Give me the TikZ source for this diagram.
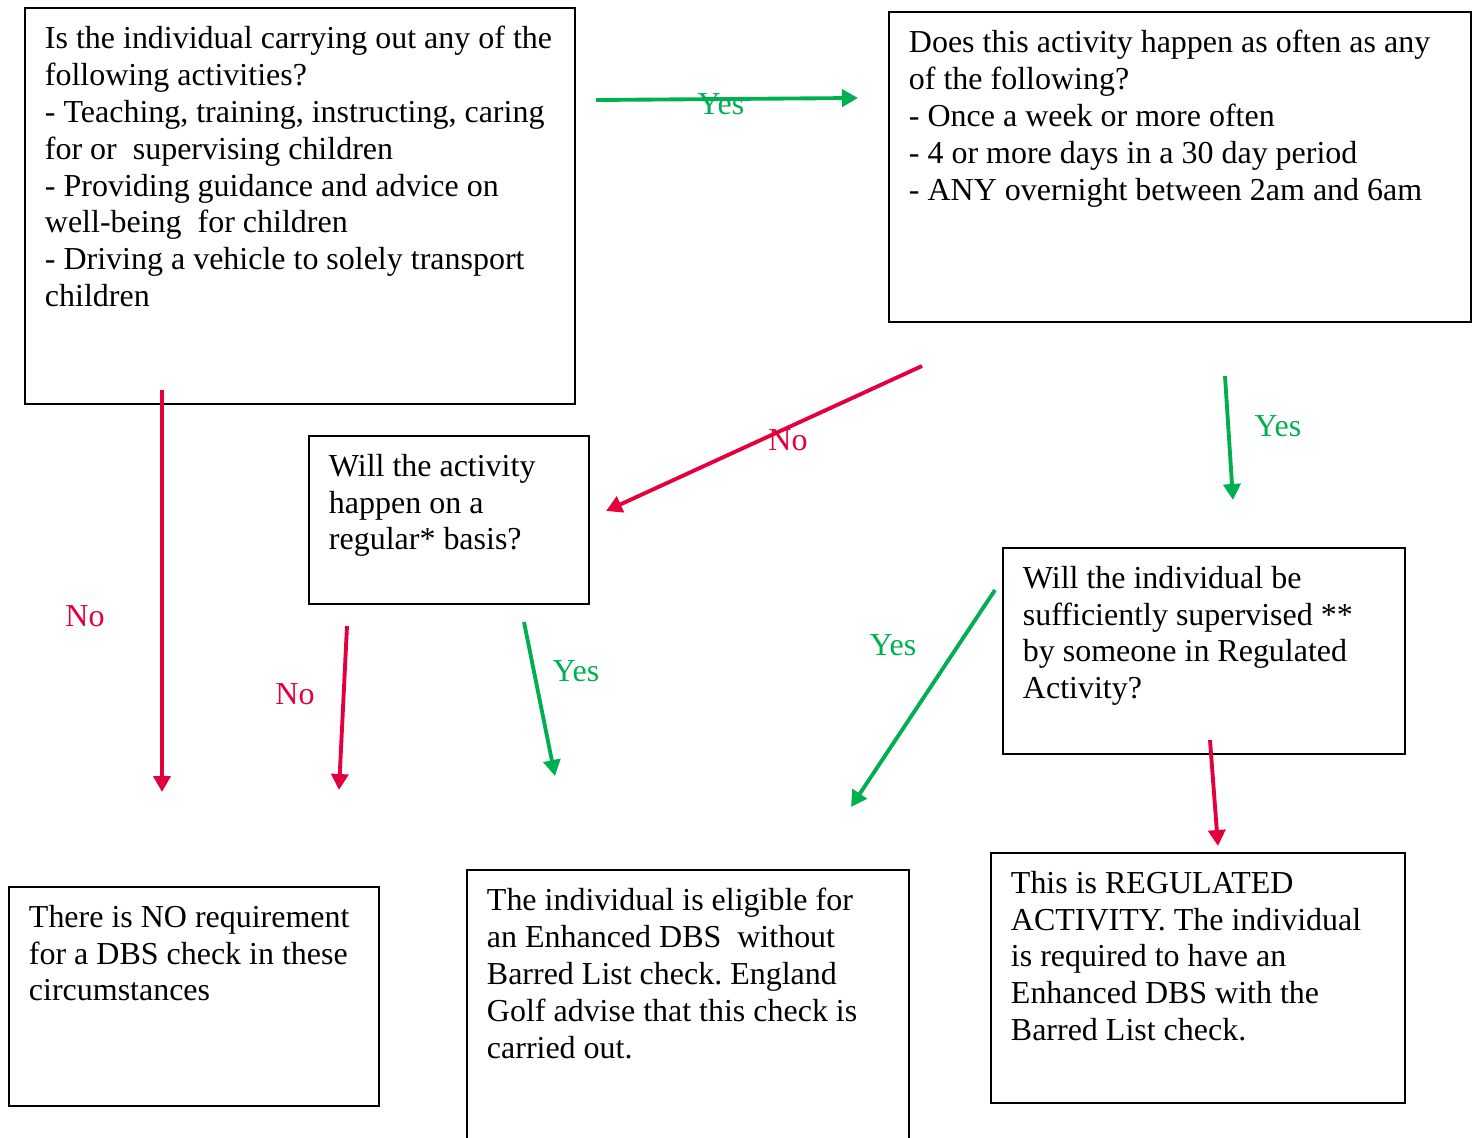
\documentclass[tikz,border=0pt]{standalone}
\usepackage{fontspec}
\setmainfont{Liberation Serif}
\usepackage{tikz}
\usetikzlibrary{arrows.meta}
\definecolor{yesgreen}{RGB}{0,176,80}
\definecolor{nored}{RGB}{228,0,60}
\newcommand{\boxtext}[3]{\parbox[t][#2][t]{#1}{\raggedright\frenchspacing #3}}

\begin{document}
\begin{tikzpicture}[x=0.02cm,y=-0.02cm,
  font=\fontsize{18.2}{21}\selectfont,
  qbox/.style={draw,line width=1.1pt,anchor=north west,inner xsep=0.4cm,inner ysep=0.36cm},
  yesarrow/.style={draw=yesgreen,line width=2.2pt,-{Triangle[length=0.32cm,width=0.34cm]}},
  noarrow/.style={yesarrow,draw=nored},
  yeslabel/.style={text=yesgreen,inner sep=0pt},
  nolabel/.style={text=nored,inner sep=0pt}]
\useasboundingbox (0,0) rectangle (1475,1138);
\clip (0,0) rectangle (1475,1138);

\node[qbox] (activities) at (24,7) {\boxtext{10.2cm}{7.2cm}{Is the individual carrying out any of the\\
following activities?\\
- Teaching, training, instructing, caring\\
for or\ \ supervising children\\
- Providing guidance and advice on\\
well-being\ \ for children\\
- Driving a vehicle to solely transport\\
children}};
\node[qbox] (often) at (888,11) {\boxtext{10.84cm}{5.48cm}{Does this activity happen as often as any\\
of the following?\\
- Once a week or more often\\
- 4 or more days in a 30 day period\\
- ANY overnight between 2am and 6am}};
\node[qbox] (regular) at (308,435) {\boxtext{4.8cm}{2.64cm}{Will the activity\\
happen on a\\
regular* basis?}};
\node[qbox] (supervised) at (1002,547) {\boxtext{7.24cm}{3.4cm}{Will the individual be\\
sufficiently supervised **\\
by someone in Regulated\\
Activity?}};
\node[qbox] (nocheck) at (8,886) {\boxtext{6.6cm}{3.66cm}{There is NO requirement\\
for a DBS check in these\\
circumstances}};
\node[qbox] (enhanced) at (466,869) {\boxtext{8.04cm}{6cm}{The individual is eligible for\\
an Enhanced DBS\ \ without\\
Barred List check. England\\
Golf advise that this check is\\
carried out.}};
\node[qbox] (regulated) at (990,852) {\boxtext{7.48cm}{4.28cm}{This is REGULATED\\
ACTIVITY. The individual\\
is required to have an\\
Enhanced DBS with the\\
Barred List check.}};

\coordinate (yes1s) at (596,100);
\coordinate (yes1e) at (858,98);
\coordinate (no1s) at (922,366);
\coordinate (no1e) at (606,511);
\coordinate (yes2s) at (1225,376);
\coordinate (yes2e) at (1233,500);
\coordinate (no2s) at (162,390);
\coordinate (no2e) at (162,792);
\coordinate (no3s) at (347,626);
\coordinate (no3e) at (339,790);
\coordinate (yes3s) at (524,622);
\coordinate (yes3e) at (555,776);
\coordinate (yes4s) at (995,590);
\coordinate (yes4e) at (851,807);
\coordinate (no4s) at (1210,740);
\coordinate (no4e) at (1218,846);

\draw[yesarrow] (yes1s) -- (yes1e);
\draw[noarrow] (no1s) -- (no1e);
\draw[yesarrow] (yes2s) -- (yes2e);
\draw[noarrow] (no2s) -- (no2e);
\draw[noarrow] (no3s) -- (no3e);
\draw[yesarrow] (yes3s) -- (yes3e);
\draw[yesarrow] (yes4s) -- (yes4e);
\draw[noarrow] (no4s) -- (no4e);

\node[yeslabel] (yes1) at (721,104) {Yes};
\node[nolabel] (no1) at (788,440) {No};
\node[yeslabel] (yes2) at (1278,426) {Yes};
\node[nolabel] (no2) at (85,616) {No};
\node[nolabel] (no3) at (295,694) {No};
\node[yeslabel] (yes3) at (576,671) {Yes};
\node[yeslabel] (yes4) at (893,645) {Yes};
\end{tikzpicture}
\end{document}
